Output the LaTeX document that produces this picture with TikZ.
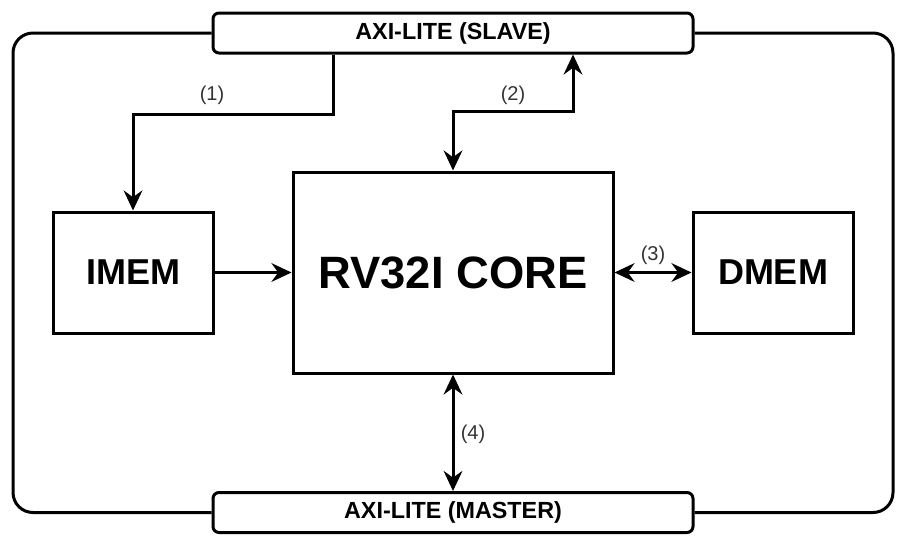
\documentclass[tikz,border=0pt]{standalone}
\usepackage{fontspec}
\setmainfont{Liberation Sans}
\usetikzlibrary{arrows.meta}
\definecolor{lblgray}{RGB}{51,51,51}

\begin{document}
\begin{tikzpicture}[x=.75pt,y=-.75pt,line width=2.25pt,
  >={Stealth[length=15pt,width=14pt,inset=5pt]},
  blk/.style={draw,rectangle,font=\bfseries},
  bus/.style={draw,rectangle,rounded corners=4.5pt,minimum width=360pt,minimum height=30pt,
    font=\fontsize{17.5}{20}\selectfont\bfseries},
  lbl/.style={text=lblgray,font=\fontsize{15}{17}\selectfont}]
\useasboundingbox (0,0) rectangle (904,544);
\node[bus] (slave) at (453,33) {AXI-LITE (SLAVE)};
\node[bus] (master) at (453,512.5) {AXI-LITE (MASTER)};
\node[blk,minimum width=120pt,minimum height=90.75pt,font=\fontsize{27}{30}\selectfont\bfseries] (imem) at (133,272.5) {IMEM};
\node[blk,minimum width=240pt,minimum height=150.75pt,font=\fontsize{34}{36}\selectfont\bfseries] (core) at (453,272.5) {RV32I CORE};
\node[blk,minimum width=120pt,minimum height=90.75pt,font=\fontsize{27}{30}\selectfont\bfseries] (dmem) at (773,272.5) {DMEM};
% outer loop
\draw[rounded corners=15pt] (slave.west) -| (13,300) |- (master.west);
\draw[rounded corners=15pt] (slave.east) -| (893,300) |- (master.east);
% links
\draw[->] ([xshift=-90pt]slave.south) -- ++(0,60) -| (imem);
\draw[<->] (core.north) -- ++(0,-59) -| ([xshift=90pt]slave.south);
\draw[->] (imem) -- (core);
\draw[<->] (core) -- (dmem);
\draw[<->] (core) -- (master);
\node[lbl] (l1) at (212,95) {(1)};\node[lbl] (l2) at (513,95) {(2)};
\node[lbl] (l3) at (653,255) {(3)};\node[lbl] (l4) at (473,434) {(4)};
\end{tikzpicture}
\end{document}
